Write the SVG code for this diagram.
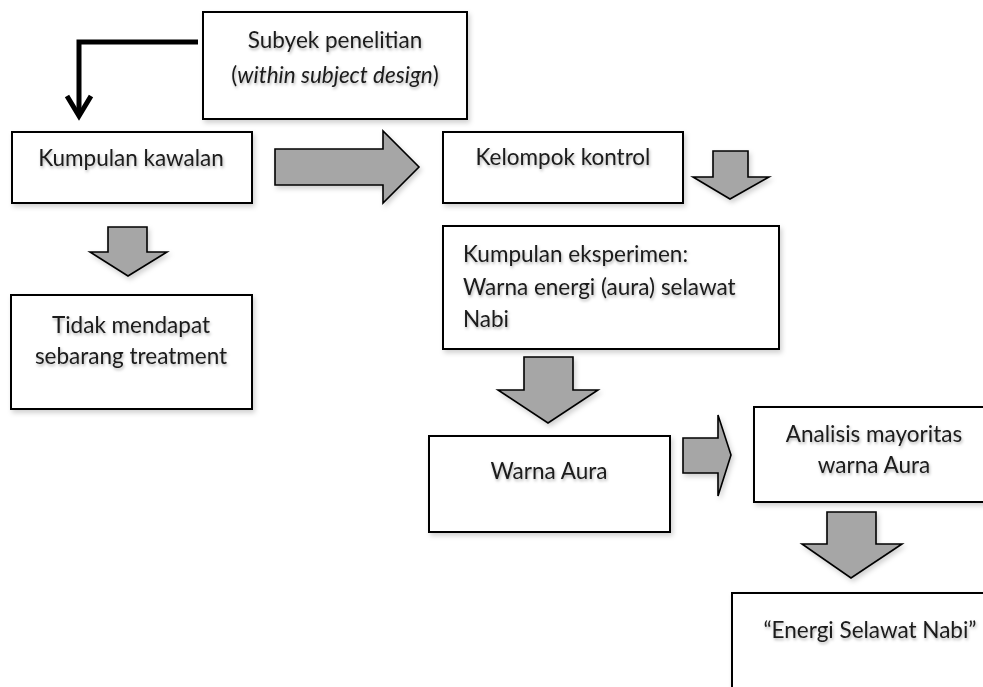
<svg xmlns="http://www.w3.org/2000/svg" width="983" height="687" viewBox="0 0 983 687">
<style>
.box{fill:#fff;stroke:#000;stroke-width:2;filter:url(#sh)}
.blk{fill:#a6a6a6;stroke:#000;stroke-width:1.6;stroke-linejoin:miter;filter:url(#sh)}
.t{font-family:Lato,"Open Sans",sans-serif;font-size:22.5px;fill:#1a1a1a;filter:url(#tsh)}
.c{text-anchor:middle}
.bent{fill:none;stroke:#000;stroke-width:5;stroke-linejoin:miter}
</style>
<defs>
<filter id="sh" x="-10%" y="-10%" width="130%" height="140%">
<feDropShadow dx="2" dy="3" stdDeviation="2.5" flood-color="#000" flood-opacity="0.18"/>
</filter>
<filter id="tsh" x="-10%" y="-30%" width="120%" height="170%">
<feDropShadow dx="1" dy="2" stdDeviation="1.5" flood-color="#000" flood-opacity="0.3"/>
</filter>
</defs>
<rect width="983" height="687" fill="#fff"/>
<g id="connectors">
<path class="bent" d="M198,42 H79 V116"/>
<path class="bent" d="M67,96 L79,116 L91,96"/>
<polygon class="blk" points="275,149 383,149 383,131 419,167 383,203 383,185 275,185"/>
<polygon class="blk" points="713,151 748,151 748,177 769,177 730,199 693,177 713,177"/>
<polygon class="blk" points="108,227 147,227 147,252 167,252 128,276 90,252 108,252"/>
<polygon class="blk" points="524,357 573,357 573,390 598,390 548,423 498,390 524,390"/>
<polygon class="blk" points="683,438 718,438 718,415 731,455 718,496 718,473 683,473"/>
<polygon class="blk" points="827,512 876,512 876,544 902,544 851,578 802,544 827,544"/>
</g>
<g id="subyek">
<rect class="box" x="203" y="12" width="264" height="107"/>
<text class="t c" x="335" y="48">Subyek penelitian</text>
<text class="t c" x="335" y="83">(<tspan font-style="italic">within subject design</tspan>)</text>
</g>
<g id="kawalan">
<rect class="box" x="12" y="132" width="240" height="71"/>
<text class="t c" x="131" y="166">Kumpulan kawalan</text>
</g>
<g id="kontrol">
<rect class="box" x="443" y="132" width="240" height="71"/>
<text class="t c" x="563" y="165">Kelompok kontrol</text>
</g>
<g id="eksperimen">
<rect class="box" x="443" y="226" width="336" height="123"/>
<text class="t" x="463" y="262">Kumpulan eksperimen:</text>
<text class="t" x="463" y="295">Warna energi (aura) selawat</text>
<text class="t" x="463" y="327">Nabi</text>
</g>
<g id="tidak">
<rect class="box" x="11" y="295" width="241" height="114"/>
<text class="t c" x="131" y="333">Tidak mendapat</text>
<text class="t c" x="131" y="364">sebarang treatment</text>
</g>
<g id="warna">
<rect class="box" x="429" y="436" width="241" height="96"/>
<text class="t c" x="549" y="479">Warna Aura</text>
</g>
<g id="analisis">
<rect class="box" x="754" y="407" width="240" height="95"/>
<text class="t c" x="874" y="442">Analisis mayoritas</text>
<text class="t c" x="874" y="473">warna Aura</text>
</g>
<g id="energi">
<rect class="box" x="732" y="593" width="262" height="110"/>
<text class="t c" x="870" y="638">“Energi Selawat Nabi”</text>
</g>
</svg>
